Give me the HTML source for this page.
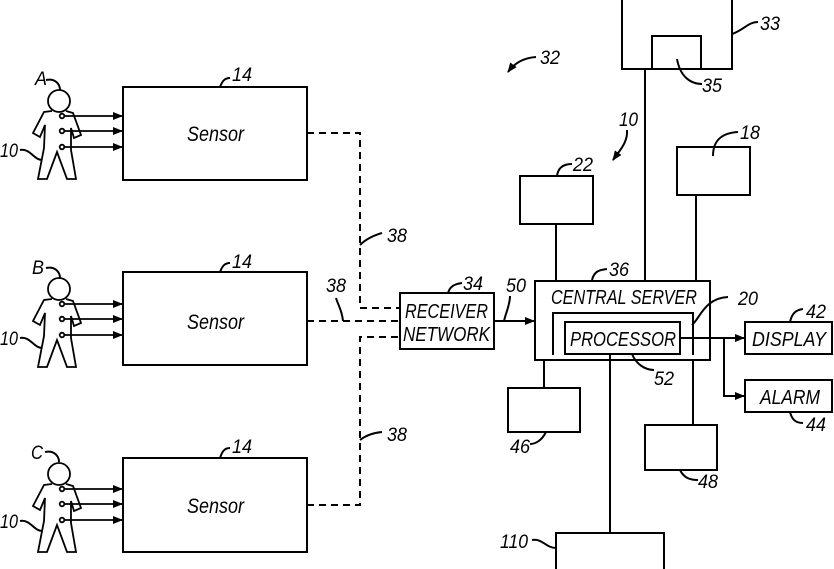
<!DOCTYPE html>
<html><head><style>
html,body{margin:0;padding:0;background:#fff;}
svg{display:block;}
text{font-family:"Liberation Sans",sans-serif;font-style:italic;fill:#000;}
</style></head><body>
<svg width="834" height="569" viewBox="0 0 834 569" xmlns="http://www.w3.org/2000/svg">
<defs>
<marker id="ah" markerWidth="10" markerHeight="8" refX="9" refY="4" orient="auto" markerUnits="userSpaceOnUse">
<path d="M0,0 L10,4 L0,8 Z" fill="#000"/></marker>
<g id="person" fill="none" stroke="#000" stroke-width="1.8">
<circle cx="59" cy="101" r="11"/>
<path d="M52,111 L44,112 L33,133 L40,137 L45,125 L44,148 L38,179 L47,179 L57,152 L67,179 L76,179 L71,150 L71,128 L74,138 L81,135 L73,113 L66,111"/>
<circle cx="62" cy="116" r="2.3" fill="#fff"/>
<circle cx="62" cy="131" r="2.3" fill="#fff"/>
<circle cx="62" cy="147" r="2.3" fill="#fff"/>
<path d="M64,116 H122" marker-end="url(#ah)"/>
<path d="M64,131 H122" marker-end="url(#ah)"/>
<path d="M64,147 H122" marker-end="url(#ah)"/>
</g>
</defs>
<g stroke="#000" stroke-width="2" fill="none">
<use href="#person"/>
<use href="#person" transform="translate(0,188)"/>
<use href="#person" transform="translate(0,373)"/>
<path d="M46,80 C55,78 60,84 60,90"/>
<path d="M46,268 C55,266 60,272 60,278"/>
<path d="M45,452 C54,450 59,456 59,462"/>
<path d="M20,150 C30,148 34,160 42,160"/>
<path d="M20,338 C30,336 34,348 42,348"/>
<path d="M20,521 C30,519 34,531 42,531"/>
<rect x="123" y="87" width="184" height="93"/>
<rect x="123" y="272" width="184" height="93"/>
<rect x="123" y="458" width="184" height="94"/>
<path d="M230,78 C224,78 222,82 220,87"/>
<path d="M230,263 C224,263 222,267 220,272"/>
<path d="M230,448 C224,448 222,452 220,458"/>
<g stroke-dasharray="7,5">
<path d="M307,133 H360 V308 H400"/>
<path d="M307,321 H400"/>
<path d="M307,505 H360 V337 H400"/>
</g>
<path d="M360,245 C365,240 372,236 382,233"/>
<path d="M360,440 C365,436 372,433 382,432"/>
<path d="M336,298 C338,305 342,310 343,321"/>
<rect x="400" y="293" width="94" height="56"/>
<path d="M448,293 C450,286 455,284 462,283"/>
<path d="M494,321 H534" marker-end="url(#ah)"/>
<path d="M510,296 C510,305 506,312 504,321"/>
<rect x="535" y="281" width="175" height="79"/>
<path d="M553,355 V313 H693 V355"/>
<rect x="565" y="322" width="115" height="32"/>
<path d="M592,280 C594,272 598,270 607,269"/>
<path d="M692,325 C700,318 705,298 728,297"/>
<path d="M632,354 C636,364 645,370 654,370"/>
<path d="M680,338 H744" marker-end="url(#ah)"/>
<path d="M724,338 V396 H744" marker-end="url(#ah)"/>
<rect x="745" y="322" width="87" height="32"/>
<rect x="745" y="380" width="87" height="32"/>
<path d="M790,322 C792,313 796,310 803,309"/>
<path d="M790,412 C792,420 796,423 803,423"/>
<rect x="622" y="-2" width="110" height="71"/>
<rect x="652" y="36" width="49" height="33"/>
<path d="M732,34 C744,30 748,22 758,22"/>
<path d="M677,59 C680,76 690,84 702,84"/>
<path d="M645,69 V281"/>
<rect x="520" y="176" width="73" height="48"/>
<path d="M556,224 V281"/>
<path d="M557,176 C558,168 563,164 572,164"/>
<rect x="677" y="147" width="73" height="48"/>
<path d="M696,195 V281"/>
<path d="M713,156 C713,140 722,133 738,132"/>
<rect x="508" y="388" width="72" height="44"/>
<path d="M544,360 V388"/>
<path d="M546,432 C542,440 536,444 530,444"/>
<rect x="645" y="425" width="72" height="45"/>
<path d="M693,360 V425"/>
<path d="M680,470 C684,478 690,480 698,480"/>
<rect x="556" y="533" width="108" height="40"/>
<path d="M610,354 V533"/>
<path d="M532,540 C542,538 546,548 556,548"/>
<path d="M536,57 C522,58 514,64 508,72" marker-end="url(#ah)"/>
<path d="M627,130 C628,142 620,150 613,160" marker-end="url(#ah)"/>
</g>
<g font-size="19" lengthAdjust="spacingAndGlyphs">
<text x="35" y="85" textLength="12" lengthAdjust="spacingAndGlyphs">A</text>
<text x="32" y="274" textLength="12" lengthAdjust="spacingAndGlyphs">B</text>
<text x="31" y="459" textLength="12" lengthAdjust="spacingAndGlyphs">C</text>
<text x="0" y="157" textLength="18" lengthAdjust="spacingAndGlyphs">10</text>
<text x="0" y="345" textLength="18" lengthAdjust="spacingAndGlyphs">10</text>
<text x="0" y="528" textLength="18" lengthAdjust="spacingAndGlyphs">10</text>
<text x="232" y="81" textLength="20" lengthAdjust="spacingAndGlyphs">14</text>
<text x="232" y="268" textLength="20" lengthAdjust="spacingAndGlyphs">14</text>
<text x="232" y="453" textLength="20" lengthAdjust="spacingAndGlyphs">14</text>
<text x="187" y="141" font-size="21" textLength="57" lengthAdjust="spacingAndGlyphs">Sensor</text>
<text x="187" y="329" font-size="21" textLength="57" lengthAdjust="spacingAndGlyphs">Sensor</text>
<text x="187" y="513" font-size="21" textLength="57" lengthAdjust="spacingAndGlyphs">Sensor</text>
<text x="387" y="242" textLength="20" lengthAdjust="spacingAndGlyphs">38</text>
<text x="326" y="292" textLength="20" lengthAdjust="spacingAndGlyphs">38</text>
<text x="387" y="441" textLength="20" lengthAdjust="spacingAndGlyphs">38</text>
<text x="463" y="290" textLength="20" lengthAdjust="spacingAndGlyphs">34</text>
<text x="506" y="292" textLength="20" lengthAdjust="spacingAndGlyphs">50</text>
<text x="405" y="318" font-size="20" textLength="83" lengthAdjust="spacingAndGlyphs">RECEIVER</text>
<text x="403" y="341" font-size="20" textLength="87" lengthAdjust="spacingAndGlyphs">NETWORK</text>
<text x="609" y="276" textLength="20" lengthAdjust="spacingAndGlyphs">36</text>
<text x="551" y="304" font-size="20" textLength="146" lengthAdjust="spacingAndGlyphs">CENTRAL SERVER</text>
<text x="570" y="346" font-size="20" textLength="106" lengthAdjust="spacingAndGlyphs">PROCESSOR</text>
<text x="738" y="305" textLength="20" lengthAdjust="spacingAndGlyphs">20</text>
<text x="806" y="318" textLength="20" lengthAdjust="spacingAndGlyphs">42</text>
<text x="752" y="346" font-size="20" textLength="74" lengthAdjust="spacingAndGlyphs">DISPLAY</text>
<text x="760" y="404" font-size="20" textLength="60" lengthAdjust="spacingAndGlyphs">ALARM</text>
<text x="806" y="431" textLength="20" lengthAdjust="spacingAndGlyphs">44</text>
<text x="654" y="385" textLength="20" lengthAdjust="spacingAndGlyphs">52</text>
<text x="510" y="453" textLength="20" lengthAdjust="spacingAndGlyphs">46</text>
<text x="698" y="488" textLength="20" lengthAdjust="spacingAndGlyphs">48</text>
<text x="500" y="548" textLength="28" lengthAdjust="spacingAndGlyphs">110</text>
<text x="540" y="64" textLength="20" lengthAdjust="spacingAndGlyphs">32</text>
<text x="619" y="126" textLength="19" lengthAdjust="spacingAndGlyphs">10</text>
<text x="760" y="30" textLength="20" lengthAdjust="spacingAndGlyphs">33</text>
<text x="702" y="92" textLength="20" lengthAdjust="spacingAndGlyphs">35</text>
<text x="573" y="171" textLength="20" lengthAdjust="spacingAndGlyphs">22</text>
<text x="740" y="139" textLength="20" lengthAdjust="spacingAndGlyphs">18</text>
</g>
</svg>
</body></html>
